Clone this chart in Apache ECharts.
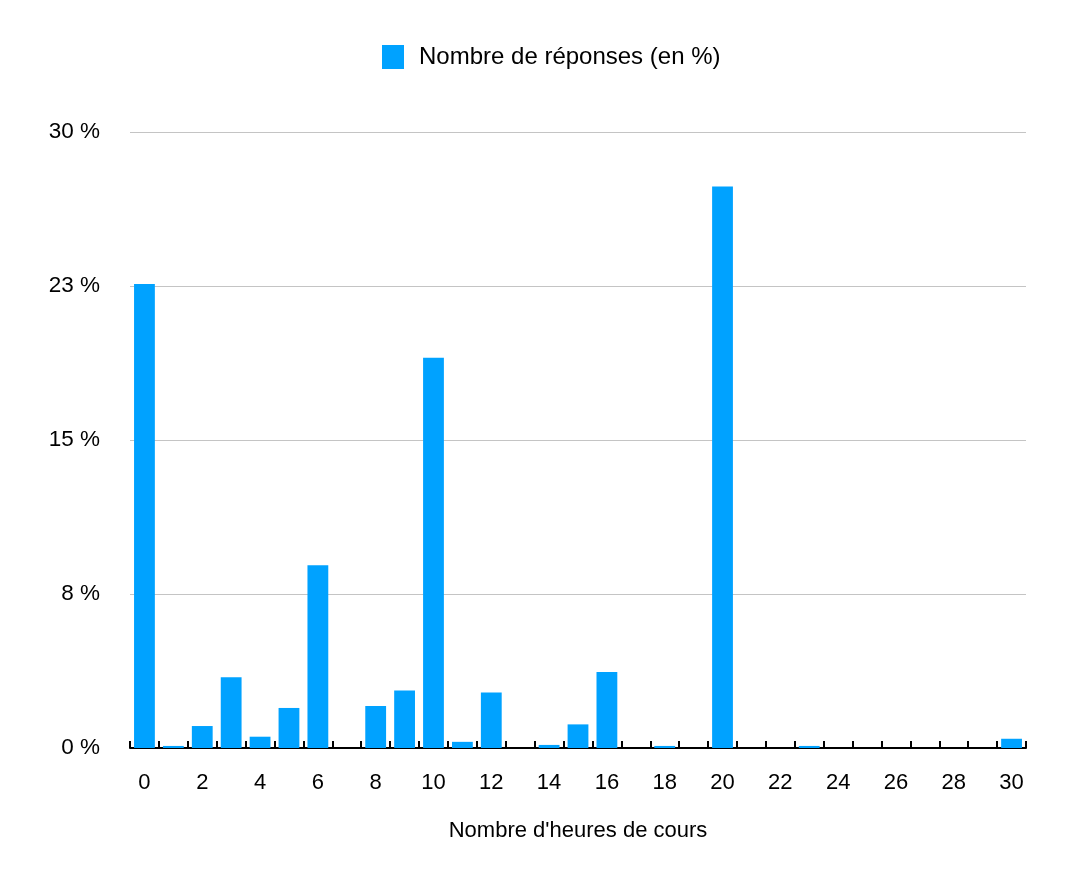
<!DOCTYPE html>
<html>
<head>
<meta charset="utf-8">
<script src="https://cdn.jsdelivr.net/npm/echarts@6/dist/echarts.min.js"></script>
<style>
  html, body { margin: 0; padding: 0; background: #fff; }
  #chart { width: 1086px; height: 878px; }
</style>
</head>
<body>
<div id="chart"></div>
<script>
// heures de cours 0..30
var heures = [];
for (var h = 0; h <= 30; h++) heures.push(String(h));

// Nombre de réponses (en %)
var reponses = [22.6, 0.1, 1.07, 3.45, 0.55, 1.95, 8.9, 0, 2.05, 2.8, 19.0, 0.3, 2.7, 0, 0.15, 1.15,
                3.7, 0, 0.1, 0, 27.35, 0, 0, 0.1, 0, 0, 0, 0, 0, 0, 0.45];

var yTicks = [0, 7.5, 15, 22.5, 30];

var chart = echarts.init(document.getElementById('chart'));

var option = {
    animation: false,
    textStyle: { fontFamily: 'Liberation Sans, Arial, sans-serif' },
    legend: {
        top: 40,
        left: 377,
        itemWidth: 22,
        itemHeight: 24,
        icon: 'rect',
        textStyle: { fontSize: 24, color: '#000', padding: [0, 0, 0, 10] },
        data: ['Nombre de réponses (en %)']
    },
    grid: {
        left: 130,
        right: 60,
        top: 132,
        bottom: 130
    },
    xAxis: {
        type: 'category',
        data: heures,
        name: "Nombre d'heures de cours",
        nameLocation: 'middle',
        nameGap: 72,
        nameTextStyle: { fontSize: 22, color: '#000' },
        axisLine: { lineStyle: { color: '#000', width: 2 } },
        axisTick: { show: true, interval: 0, inside: true, length: 7, lineStyle: { color: '#000', width: 2 } },
        axisLabel: { interval: 1, fontSize: 22, color: '#000', margin: 24 }
    },
    yAxis: {
        type: 'value',
        min: yTicks[0],
        max: yTicks[yTicks.length - 1],
        interval: 7.5,
        axisLine: { show: false },
        axisTick: { show: false },
        axisLabel: {
            fontSize: 22.5,
            color: '#000',
            margin: 30,
            padding: [4, 0, 0, 0],
            formatter: function (v) { return Math.round(v) + ' %'; }
        },
        splitLine: { lineStyle: { color: '#c4c4c4', width: 1 } }
    },
    series: [{
        name: 'Nombre de réponses (en %)',
        type: 'bar',
        data: reponses,
        barCategoryGap: '28%',
        itemStyle: { color: '#00a2ff' }
    }]
};

chart.setOption(option);
</script>
</body>
</html>
